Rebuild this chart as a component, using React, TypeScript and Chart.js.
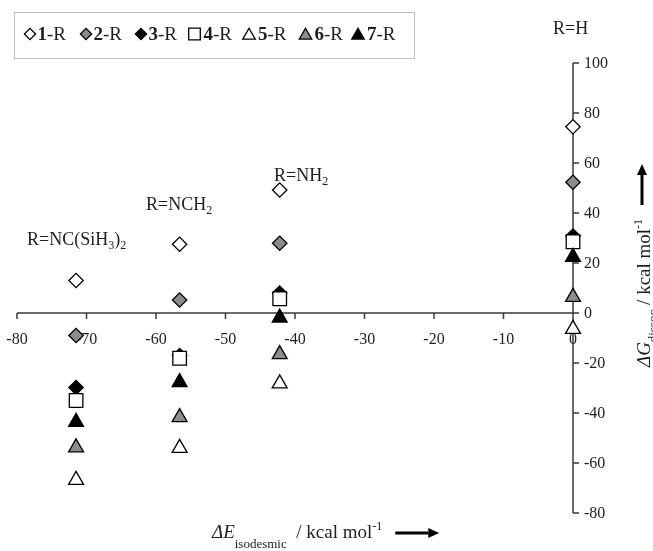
import React, { useEffect, useRef } from "react";
import { Chart, registerables } from "chart.js";

Chart.register(...registerables);

// ---------- data ----------
const substituents = ["NC(SiH3)2", "NCH2", "NH2", "H"];
const deltaEIsodesmic = [-71.5, -56.6, -42.2, 0];
const dG1 = [13, 27.5, 49.2, 74.5];
const dG2 = [-9, 5.2, 27.9, 52.3];
const dG3 = [-29.8, -17, 8, 30.8];
const dG4 = [-35, -18.1, 5.7, 28.5];
const dG5 = [-66.8, -54, -28.2, -6.4];
const dG6 = [-53.8, -41.7, -16.5, 6.4];
const dG7 = [-43.6, -27.7, -1.9, 22.4];
const seriesLabels = ["1", "2", "3", "4", "5", "6", "7"];
const xTicks = [-80, -70, -60, -50, -40, -30, -20, -10, 0];
const yTicks = [-80, -60, -40, -20, 0, 20, 40, 60, 80, 100];
const X_MIN = -80;
const X_MAX = 0;
const Y_MIN = -80;
const Y_MAX = 100;

// ---------- styles ----------
const SERIF = "'Liberation Serif', 'Times New Roman', serif";
const GREY = "#8c8c8c";
const AXIS = "#3a3a3a";
const TEXT = "#1e1e1e";

type MStyle = "rectRot" | "rect" | "triangle";
const seriesStyle: { style: MStyle; fill: string; r: number; lr: number }[] = [
  { style: "rectRot", fill: "#ffffff", r: 7.2, lr: 5.6 },
  { style: "rectRot", fill: GREY, r: 7.2, lr: 5.6 },
  { style: "rectRot", fill: "#000000", r: 7.2, lr: 5.6 },
  { style: "rect", fill: "#ffffff", r: 9.6, lr: 8.2 },
  { style: "triangle", fill: "#ffffff", r: 8.6, lr: 7.2 },
  { style: "triangle", fill: GREY, r: 8.6, lr: 7.2 },
  { style: "triangle", fill: "#000000", r: 8.6, lr: 7.2 },
];
const seriesValues = [dG1, dG2, dG3, dG4, dG5, dG6, dG7];

function drawMarker(ctx: CanvasRenderingContext2D, style: MStyle, x: number, y: number, r: number, fill: string) {
  ctx.beginPath();
  if (style === "rectRot") {
    ctx.moveTo(x - r, y);
    ctx.lineTo(x, y - r);
    ctx.lineTo(x + r, y);
    ctx.lineTo(x, y + r);
  } else if (style === "rect") {
    const s = r * Math.SQRT1_2;
    ctx.rect(x - s, y - s, 2 * s, 2 * s);
  } else {
    ctx.moveTo(x, y - r);
    ctx.lineTo(x + 0.866 * r, y + 0.5 * r);
    ctx.lineTo(x - 0.866 * r, y + 0.5 * r);
  }
  ctx.closePath();
  ctx.fillStyle = fill;
  ctx.fill();
  ctx.lineWidth = 1.3;
  ctx.strokeStyle = "#000";
  ctx.stroke();
}

type Part = { t: string; size: number; italic?: boolean; bold?: boolean; dy?: number };

function drawRich(ctx: CanvasRenderingContext2D, x: number, y: number, parts: Part[]) {
  let cx = x;
  ctx.textAlign = "left";
  ctx.textBaseline = "alphabetic";
  for (const p of parts) {
    ctx.font = `${p.italic ? "italic " : ""}${p.bold ? "bold " : ""}${p.size}px ${SERIF}`;
    ctx.fillText(p.t, cx, y + (p.dy || 0));
    cx += ctx.measureText(p.t).width;
  }
  return cx;
}

function arrow(ctx: CanvasRenderingContext2D, x1: number, y1: number, x2: number, y2: number) {
  const ang = Math.atan2(y2 - y1, x2 - x1);
  const head = 11;
  const hw = 5;
  ctx.save();
  ctx.strokeStyle = "#000";
  ctx.fillStyle = "#000";
  ctx.lineWidth = 3;
  ctx.beginPath();
  ctx.moveTo(x1, y1);
  ctx.lineTo(x2 - Math.cos(ang) * head, y2 - Math.sin(ang) * head);
  ctx.stroke();
  ctx.beginPath();
  ctx.moveTo(x2, y2);
  ctx.lineTo(x2 - Math.cos(ang) * head - Math.sin(ang) * hw, y2 - Math.sin(ang) * head + Math.cos(ang) * hw);
  ctx.lineTo(x2 - Math.cos(ang) * head + Math.sin(ang) * hw, y2 - Math.sin(ang) * head - Math.cos(ang) * hw);
  ctx.closePath();
  ctx.fill();
  ctx.restore();
}

const axesPlugin = {
  id: "customAxes",
  beforeDatasetsDraw(chart: any) {
    const { ctx, scales } = chart;
    const xs = scales.x;
    const ys = scales.y;
    const x0 = xs.getPixelForValue(0);
    const y0 = ys.getPixelForValue(0);
    ctx.save();
    ctx.strokeStyle = AXIS;
    ctx.lineWidth = 1.5;
    ctx.beginPath();
    ctx.moveTo(xs.getPixelForValue(X_MIN), y0);
    ctx.lineTo(xs.getPixelForValue(X_MAX), y0);
    for (const t of xTicks) {
      const px = xs.getPixelForValue(t);
      ctx.moveTo(px, y0);
      ctx.lineTo(px, y0 + 6);
    }
    ctx.moveTo(x0, ys.getPixelForValue(Y_MIN));
    ctx.lineTo(x0, ys.getPixelForValue(Y_MAX));
    for (const t of yTicks) {
      const py = ys.getPixelForValue(t);
      ctx.moveTo(x0, py);
      ctx.lineTo(x0 + 6, py);
    }
    ctx.stroke();

    ctx.fillStyle = TEXT;
    ctx.font = `16px ${SERIF}`;
    ctx.textAlign = "center";
    ctx.textBaseline = "middle";
    for (const t of xTicks) {
      ctx.fillText(String(t), xs.getPixelForValue(t), y0 + 27);
    }
    ctx.textAlign = "left";
    for (const t of yTicks) {
      ctx.fillText(String(t), x0 + 11, ys.getPixelForValue(t) + 1);
    }
    ctx.restore();
  },
  afterDraw(chart: any) {
    const { ctx } = chart;
    ctx.save();
    ctx.fillStyle = TEXT;

    // legend box
    ctx.strokeStyle = "#bdbdbd";
    ctx.lineWidth = 1;
    ctx.strokeRect(14.5, 12.5, 400, 46);
    const centers = [30, 86, 141, 194.5, 249, 305.5, 358];
    seriesLabels.forEach((lab, i) => {
      const st = seriesStyle[i];
      const cy = st.style === "triangle" ? 35.5 : 34;
      drawMarker(ctx, st.style, centers[i], cy, st.lr, st.fill);
      ctx.fillStyle = TEXT;
      const tx = centers[i] + (st.style === "rectRot" ? 7.5 : 9);
      drawRich(ctx, tx, 40, [
        { t: lab, size: 19, bold: true },
        { t: "-R", size: 19 },
      ]);
    });

    // group annotations
    ctx.fillStyle = TEXT;
    drawRich(ctx, 553, 34, [{ t: "R=" + substituents[3], size: 18 }]);
    drawRich(ctx, 274, 181, [
      { t: "R=NH", size: 18 },
      { t: "2", size: 12, dy: 4 },
    ]);
    drawRich(ctx, 146, 210, [
      { t: "R=NCH", size: 18 },
      { t: "2", size: 12, dy: 4 },
    ]);
    drawRich(ctx, 27, 245, [
      { t: "R=NC(SiH", size: 18 },
      { t: "3", size: 12, dy: 4 },
      { t: ")", size: 18 },
      { t: "2", size: 12, dy: 4 },
    ]);

    // x-axis title
    const endX = drawRich(ctx, 212, 538, [
      { t: "\u0394E", size: 19, italic: true },
      { t: "isodesmic", size: 13, dy: 10 },
      { t: "  / kcal mol", size: 19 },
      { t: "-1", size: 12, dy: -8 },
    ]);
    arrow(ctx, endX + 13, 533, endX + 57, 533);

    // y-axis title (rotated)
    ctx.save();
    ctx.translate(650, 367);
    ctx.rotate(-Math.PI / 2);
    drawRich(ctx, 0, 0, [
      { t: "\u0394G", size: 19, italic: true },
      { t: "dissoc", size: 13, dy: 7 },
      { t: " / kcal mol", size: 19 },
      { t: "-1", size: 12, dy: -8 },
    ]);
    ctx.restore();
    arrow(ctx, 642, 205, 642, 164);

    ctx.restore();
  },
};

export default function App() {
  const ref = useRef<HTMLCanvasElement | null>(null);
  useEffect(() => {
    if (!ref.current) return;
    const datasets = seriesLabels.map((lab, i) => ({
      label: lab + "-R",
      data: deltaEIsodesmic.map((x, j) => ({ x, y: seriesValues[i][j] })),
      pointStyle: seriesStyle[i].style,
      pointRadius: seriesStyle[i].r,
      pointHoverRadius: seriesStyle[i].r,
      backgroundColor: seriesStyle[i].fill,
      borderColor: "#000",
      pointBorderWidth: 1.3,
      borderWidth: 1.3,
      showLine: false,
      clip: false as any,
      order: 7 - i,
    }));
    const chart = new Chart(ref.current, {
      type: "scatter",
      data: { datasets },
      options: {
        animation: false,
        responsive: false,
        devicePixelRatio: 1,
        layout: { padding: { left: 17, right: 80, top: 63, bottom: 38 } },
        plugins: { legend: { display: false }, tooltip: { enabled: false } },
        events: [],
        scales: {
          x: { type: "linear", min: X_MIN, max: X_MAX, display: false },
          y: { type: "linear", min: Y_MIN, max: Y_MAX, display: false },
        },
      },
      plugins: [axesPlugin],
    });
    return () => chart.destroy();
  }, []);
  return (
    <div style={{ position: "absolute", left: 0, top: 0, width: 653, height: 551, background: "#fff" }}>
      <canvas ref={ref} width={653} height={551} style={{ width: 653, height: 551, display: "block" }} />
    </div>
  );
}
